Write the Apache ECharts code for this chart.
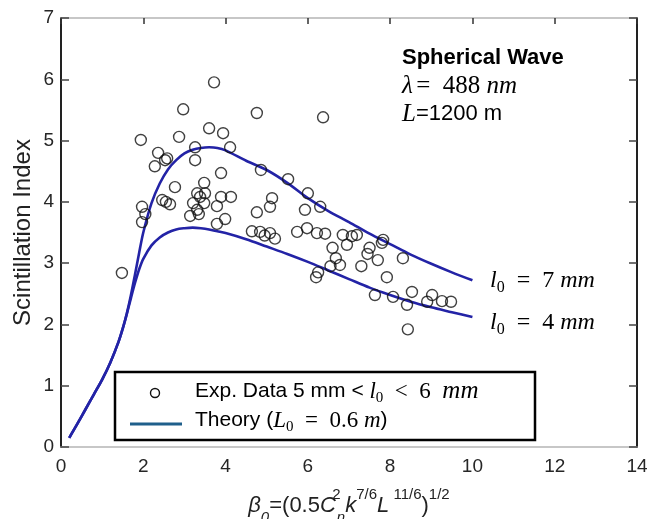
<!DOCTYPE html>
<html><head><meta charset="utf-8">
<script src="https://cdn.jsdelivr.net/npm/echarts@6/dist/echarts.min.js"></script>
<style>html,body{margin:0;padding:0;background:#fff}#c{width:647px;height:519px}</style>
</head><body><div id="c"></div>
<script>
// ---- data ----
const xMin = 0, xMax = 14, xStep = 2;
const yMin = 0, yMax = 7, yStep = 1;

const expX = [1.48,1.94,1.97,1.97,2.05,2.28,2.36,2.53,2.58,2.46,2.65,2.55,2.77,2.87,2.97,3.14,3.21,3.26,3.26,3.31,
  3.31,3.35,3.38,3.48,3.48,3.50,3.60,3.72,3.79,3.79,3.89,3.89,3.94,3.99,4.11,4.13,4.64,4.76,4.76,4.84,
  4.86,5.08,5.13,5.08,4.95,5.20,5.52,5.74,5.93,6.00,6.30,6.37,5.98,6.22,6.25,6.20,6.60,6.68,6.78,6.55,
  6.85,7.07,7.19,6.95,7.50,7.70,7.63,7.80,7.83,7.92,8.07,8.31,8.41,8.43,8.53,8.90,9.02,9.26,9.48,6.42,
  7.30,7.45];
const expY = [2.84,5.01,3.92,3.67,3.80,4.58,4.80,4.68,4.71,4.03,3.96,4.00,4.24,5.06,5.51,3.77,3.98,4.89,4.68,4.14,
  3.87,3.80,4.08,4.31,3.98,4.14,5.20,5.95,3.93,3.64,4.47,4.08,5.12,3.72,4.89,4.08,3.52,5.45,3.83,3.51,
  4.52,3.92,4.06,3.49,3.45,3.40,4.37,3.51,3.87,4.14,3.92,5.38,3.57,3.49,2.85,2.77,3.25,3.08,2.97,2.95,
  3.46,3.44,3.46,3.30,3.25,3.05,2.48,3.33,3.38,2.77,2.45,3.08,2.32,1.92,2.53,2.37,2.48,2.38,2.37,3.48,
  2.95,3.15];

const theoryX = [0.2,0.4,0.6,0.8,1.0,1.2,1.4,1.5,1.6,1.7,1.8,1.9,2.0,2.2,2.4,2.6,2.8,3.0,3.2,3.4,3.6,3.8,4.0,
  4.5,5.0,5.5,6.0,6.5,7.0,7.5,8.0,8.5,9.0,9.5,10.0];
const theory7mm = [0.15,0.38,0.62,0.86,1.10,1.38,1.72,1.93,2.18,2.48,2.82,3.17,3.50,3.98,4.30,4.53,4.68,4.79,4.85,4.88,4.89,4.88,4.84,
  4.67,4.52,4.31,4.06,3.85,3.67,3.48,3.31,3.14,2.99,2.85,2.72];
const theory4mm = [0.15,0.38,0.62,0.86,1.10,1.38,1.72,1.93,2.17,2.43,2.68,2.90,3.07,3.29,3.42,3.50,3.55,3.57,3.58,3.57,3.55,3.52,3.49,
  3.39,3.27,3.15,3.02,2.88,2.74,2.60,2.48,2.37,2.28,2.20,2.12];

// ---- chart ----
const chart = echarts.init(document.getElementById('c'), null, {renderer: 'canvas'});
const sans = 'Liberation Sans';
const serif = 'Liberation Serif';
const lineColor = '#2323a6';

function zip(a, b) { return a.map((v, i) => [v, b[i]]); }

const mathRich = {
  n: {fontFamily: serif, fontSize: 24, color: '#111'},
  i: {fontFamily: serif, fontStyle: 'italic', fontSize: 24, color: '#111'},
  s: {fontFamily: serif, fontSize: 16, color: '#111', padding: [14, 0, 0, 0]}
};
const legRich = {
  n: {fontFamily: serif, fontSize: 23, color: '#111'},
  i: {fontFamily: serif, fontStyle: 'italic', fontSize: 23, color: '#111'},
  m: {fontFamily: serif, fontStyle: 'italic', fontSize: 25, color: '#111'},
  s: {fontFamily: serif, fontSize: 15, color: '#111', padding: [13, 0, 0, 0]},
  t: {fontFamily: sans, fontSize: 21, color: '#111'}
};

const option = {
  animation: false,
  backgroundColor: '#fff',
  grid: {left: 61, right: 10, top: 18, bottom: 72, containLabel: false, outerBoundsMode: 'none'},
  xAxis: [{
    type: 'value', min: xMin, max: xMax, interval: xStep, position: 'bottom',
    axisLine: {show: true, onZero: false, lineStyle: {color: '#b5b5b5', width: 1.5}},
    axisTick: {show: false},
    splitLine: {show: false},
    axisLabel: {fontFamily: sans, fontSize: 19, color: '#262626', margin: 10},
    name: '{bi|β}{sb|0}{n|=(0.5}{ci|C}{sp2|2}{sb|n}{ci|k}{sp|7/6}{ci|L}{sp| 11/6}{n|)}{sp|1/2}',
    nameLocation: 'middle', nameGap: 40,
    nameTextStyle: {
      rich: {
        n: {fontFamily: sans, fontSize: 22, color: '#222', lineHeight: 38},
        bi: {fontFamily: sans, fontStyle: 'italic', fontSize: 22, color: '#222', lineHeight: 38},
        ci: {fontFamily: sans, fontStyle: 'italic', fontSize: 22, color: '#222', lineHeight: 38},
        sp: {fontFamily: sans, fontSize: 15, color: '#222', verticalAlign: 'top', lineHeight: 24},
        sp2: {fontFamily: sans, fontSize: 15, color: '#222', verticalAlign: 'top', lineHeight: 24, width: 1},
        sb: {fontFamily: sans, fontStyle: 'italic', fontSize: 15, color: '#222', verticalAlign: 'bottom', lineHeight: 16}
      }
    }
  }, {
    type: 'value', min: xMin, max: xMax, interval: xStep, position: 'top',
    axisLine: {show: true, onZero: false, lineStyle: {color: '#b5b5b5', width: 1.5}},
    axisTick: {show: true, inside: true, length: 6, lineStyle: {color: '#333', width: 1.5}},
    axisLabel: {show: false}, splitLine: {show: false}
  }],
  yAxis: [{
    type: 'value', min: yMin, max: yMax, interval: yStep, position: 'left',
    axisLine: {show: true, onZero: false, lineStyle: {color: '#222', width: 2}},
    axisTick: {show: true, inside: true, length: 8, lineStyle: {color: '#444', width: 1.5}},
    splitLine: {show: false},
    axisLabel: {fontFamily: sans, fontSize: 19, color: '#262626', margin: 7},
    name: 'Scintillation Index', nameLocation: 'middle', nameGap: 26, nameRotate: 90,
    nameMoveOverlap: false,
    nameTextStyle: {fontFamily: sans, fontSize: 24, color: '#222'}
  }, {
    type: 'value', min: yMin, max: yMax, interval: yStep, position: 'right',
    axisLine: {show: true, onZero: false, lineStyle: {color: '#222', width: 2}},
    axisTick: {show: true, inside: true, length: 8, lineStyle: {color: '#444', width: 1.5}},
    axisLabel: {show: false}, splitLine: {show: false}
  }],
  series: [{
    name: 'Theory l0=7mm', type: 'line', data: zip(theoryX, theory7mm), showSymbol: false, smooth: 0.3,
    lineStyle: {color: lineColor, width: 2.6}, z: 2
  }, {
    name: 'Theory l0=4mm', type: 'line', data: zip(theoryX, theory4mm), showSymbol: false, smooth: 0.3,
    lineStyle: {color: lineColor, width: 2.6}, z: 2
  }, {
    name: 'Exp. Data', type: 'scatter', data: zip(expX, expY), symbol: 'circle', symbolSize: 11,
    itemStyle: {color: 'rgba(0,0,0,0)', borderColor: '#111', borderWidth: 1.4}, z: 3
  }],
  graphic: [
    {type: 'text', left: 402, top: 47, style: {
      text: '{b|Spherical Wave}\n{i|λ} {n|=  488 }{i|nm}\n{i|L}{t|=1200 m}',
      rich: {
        b: {fontFamily: sans, fontSize: 22, fontWeight: 'bold', color: '#111', lineHeight: 28},
        i: {fontFamily: serif, fontStyle: 'italic', fontSize: 25, color: '#111', lineHeight: 28},
        n: {fontFamily: serif, fontSize: 25, color: '#111', lineHeight: 28},
        t: {fontFamily: sans, fontSize: 22, color: '#111', lineHeight: 28}
      }}},
    {type: 'text', left: 490, top: 269, style: {
      text: '{i|l}{s|0}{n|  =  7 }{i|mm}', rich: mathRich}},
    {type: 'text', left: 490, top: 311, style: {
      text: '{i|l}{s|0}{n|  =  4 }{i|mm}', rich: mathRich}},
    {type: 'rect', shape: {x: 115, y: 372, width: 420, height: 68},
      style: {fill: '#fff', stroke: '#000', lineWidth: 2.5}, z: 10},
    {type: 'circle', shape: {cx: 155, cy: 393, r: 4.5},
      style: {fill: 'none', stroke: '#111', lineWidth: 1.4}, z: 11},
    {type: 'line', shape: {x1: 130, y1: 424, x2: 182, y2: 424},
      style: {stroke: '#1f5f8b', lineWidth: 3}, z: 11},
    {type: 'text', left: 195, top: 379, z: 11, style: {
      text: '{t|Exp. Data 5 mm < }{i|l}{s|0}{n|  <  6  }{m|mm}', rich: legRich}},
    {type: 'text', left: 195, top: 409, z: 11, style: {
      text: '{t|Theory (}{i|L}{s|0}{n|  =  0.6 }{i|m}{t|)}', rich: legRich}}
  ]
};
chart.setOption(option);
</script>
</body></html>
